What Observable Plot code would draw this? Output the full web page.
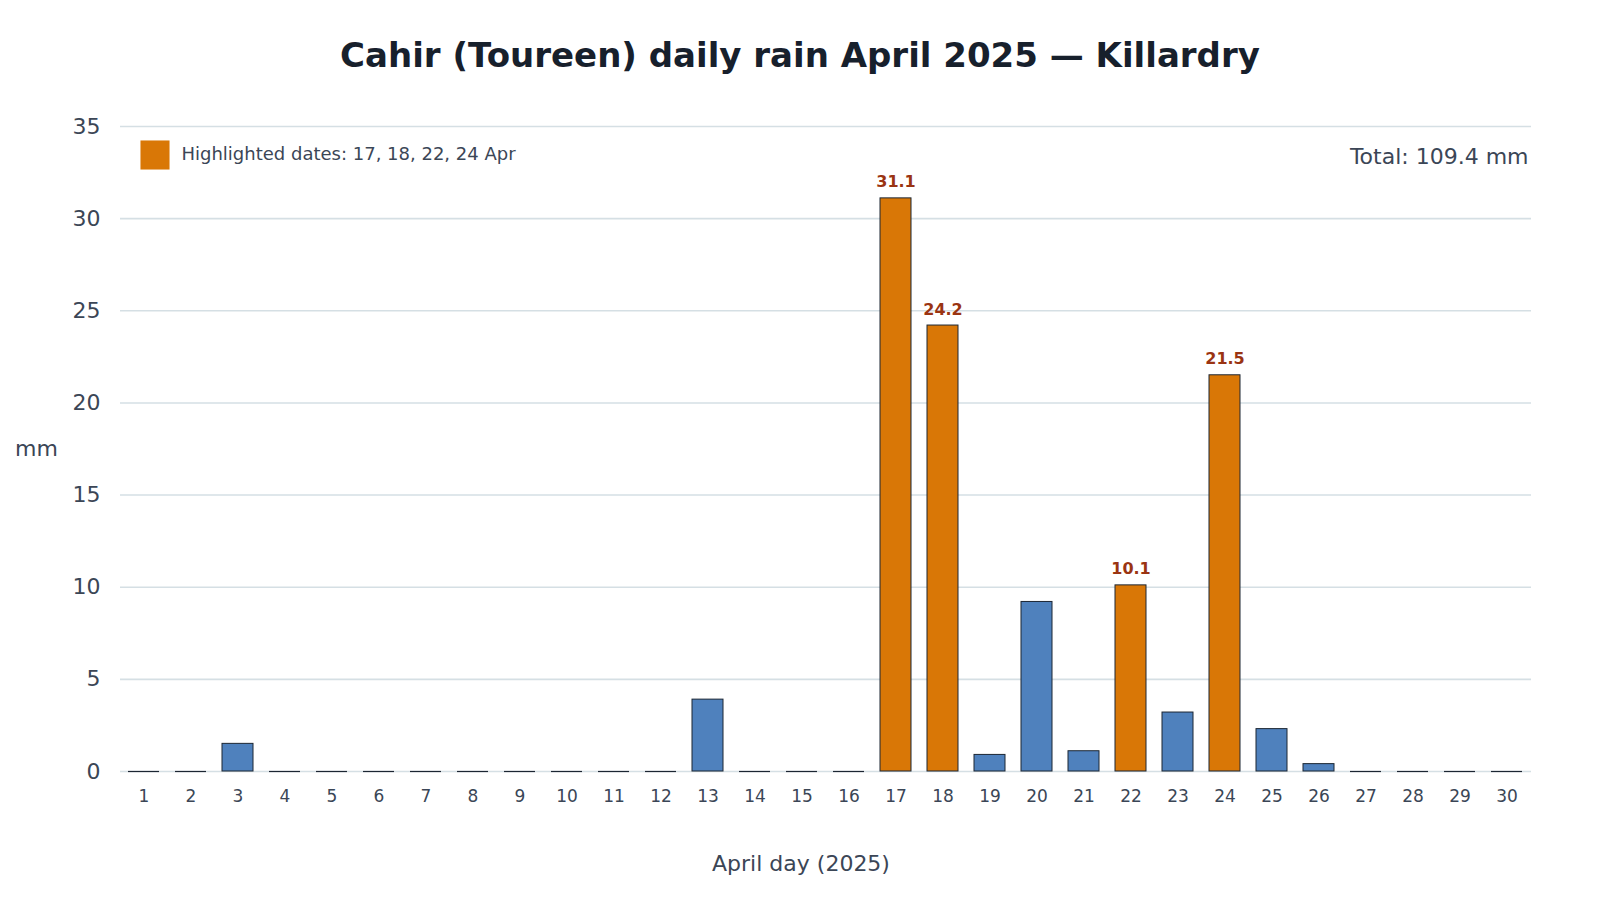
<!DOCTYPE html>
<html>
<head>
<meta charset="utf-8">
<script src="https://cdn.jsdelivr.net/npm/d3@7"></script>
<script src="https://cdn.jsdelivr.net/npm/@observablehq/plot@0.6"></script>
<style>
  html, body { margin: 0; padding: 0; background: #fff; }
  body { width: 1600px; height: 900px; position: relative; overflow: hidden; font-family: "DejaVu Sans", sans-serif; }
  #title { position: absolute; left: 0; width: 1600px; top: 38px; line-height: 34px; text-align: center;
           font-size: 34px; font-weight: bold; color: #17202c; }
  #chart { position: absolute; left: 0; top: 100px; }
</style>
</head>
<body>
<div id="title">Cahir (Toureen) daily rain April 2025 — Killardry</div>
<div id="chart"></div>
<script>
const days = d3.range(1, 31);
const rainMm = [0, 0, 1.5, 0, 0, 0, 0, 0, 0, 0, 0, 0, 3.9, 0, 0, 0, 31.1, 24.2, 0.9, 9.2, 1.1, 10.1, 3.2, 21.5, 2.3, 0.4, 0, 0, 0, 0];
const highlightDays = [17, 18, 22, 24];
const yTicks = [0, 5, 10, 15, 20, 25, 30, 35];
const legendText = "Highlighted dates: 17, 18, 22, 24 Apr";
const totalText = "Total: 109.4 mm";
const xLabel = "April day (2025)";
const yLabel = "mm";

const colBase = "#4f81bd";
const colHi = "#d97706";
const colLabel = "#9a3412";
const textCol = "#3b4656";

const data = days.map((d, i) => ({day: d, mm: rainMm[i], hi: highlightDays.includes(d)}));

const chart = Plot.plot({
  width: 1600,
  height: 800,
  marginLeft: 120,
  marginRight: 69,
  marginTop: 26,
  marginBottom: 129,
  style: {fontFamily: "'DejaVu Sans', sans-serif", color: textCol, background: "#fff"},
  x: {type: "band", domain: days, paddingInner: 0.33, paddingOuter: 0.165, label: null},
  y: {domain: [0, 35], ticks: yTicks, label: null},
  marks: [
    Plot.gridY(yTicks, {stroke: "#d5dfe4", strokeOpacity: 1, strokeWidth: 1.6}),
    Plot.axisY(yTicks, {tickSize: 0, tickPadding: 20, fontSize: 22, fill: textCol, label: null}),
    Plot.axisX(days, {tickSize: 0, tickPadding: 18, fontSize: 17, fill: textCol, label: null}),
    Plot.barY(data.filter(d => d.mm > 0), {x: "day", y: "mm", fill: d => d.hi ? colHi : colBase, stroke: "#1c2633", strokeWidth: 1}),
    Plot.tickY(data.filter(d => d.mm === 0), {x: "day", y: "mm", stroke: "#1c2633", strokeWidth: 1.2}),
    Plot.text(data.filter(d => d.hi), {x: "day", y: "mm", text: d => d.mm.toFixed(1), dy: -11, lineAnchor: "bottom",
      fontSize: 16, fontWeight: "bold", fill: colLabel}),
    Plot.dot([0], {frameAnchor: "top-left", dx: 34.5, dy: 28.5, symbol: "square", r: 16.4, fill: colHi, stroke: "none"}),
    Plot.text([legendText], {frameAnchor: "top-left", dx: 61, dy: 27.5, textAnchor: "start", lineAnchor: "middle", fontSize: 18, fill: textCol}),
    Plot.text([totalText], {frameAnchor: "top-right", dx: -3, dy: 30, textAnchor: "end", lineAnchor: "middle", fontSize: 22, fill: textCol}),
    Plot.text([yLabel], {frameAnchor: "left", dx: -84, textAnchor: "middle", lineAnchor: "middle", fontSize: 22, fill: textCol}),
    Plot.text([xLabel], {frameAnchor: "bottom", dx: -25, dy: 92, textAnchor: "middle", lineAnchor: "middle", fontSize: 22, fill: textCol})
  ]
});
document.getElementById("chart").appendChild(chart);
</script>
</body>
</html>
